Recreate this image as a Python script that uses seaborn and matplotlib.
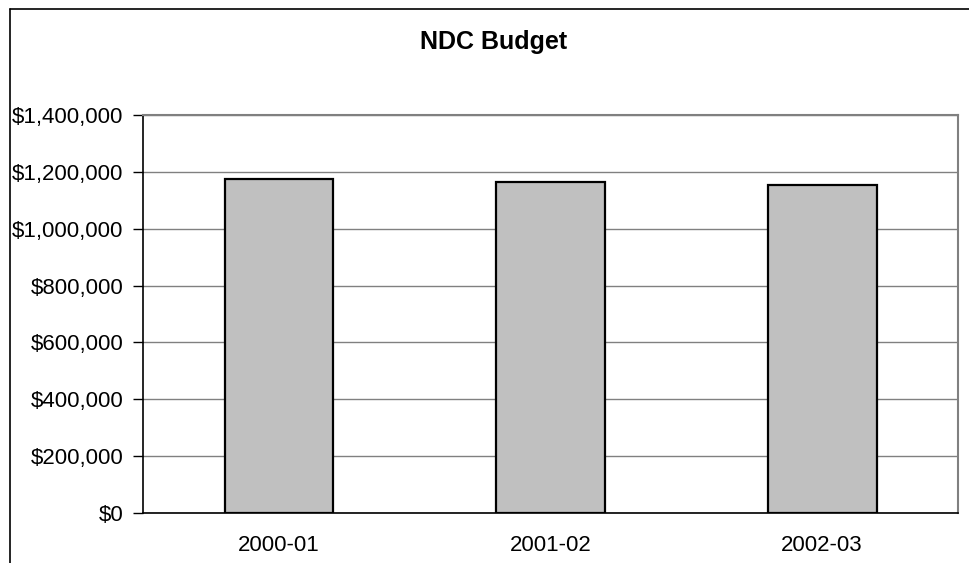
import matplotlib.pyplot as plt
import matplotlib.ticker as mticker
from matplotlib.lines import Line2D
import pandas as pd
import seaborn as sns

# NDC budget per fiscal year
years = ["2000-01", "2001-02", "2002-03"]
budget = [1176500, 1163400, 1154000]
y_ticks = [0, 200000, 400000, 600000, 800000, 1000000, 1200000, 1400000]

df = pd.DataFrame({"year": years, "budget": budget})

sns.set_style("white")
plt.rcParams["font.family"] = ["Liberation Sans", "DejaVu Sans"]
plt.rcParams["text.color"] = "black"
plt.rcParams["xtick.color"] = "black"
plt.rcParams["ytick.color"] = "black"

fig = plt.figure(figsize=(9.69, 5.63), dpi=100)
ax = fig.add_axes([143 / 969, 1 - 513 / 563, (958 - 143) / 969, (513 - 115) / 563])

sns.barplot(
    data=df, x="year", y="budget", color="#C0C0C0",
    width=0.4, edgecolor="black", linewidth=1.6, saturation=1, ax=ax,
)

ax.set_xlim(-0.5, 2.5)
ax.set_ylim(0, 1400000)
ax.set_yticks(y_ticks)
ax.yaxis.set_major_formatter(mticker.FuncFormatter(lambda v, p: f"${v:,.0f}"))
ax.set_xlabel("")
ax.set_ylabel("")

# gridlines behind the bars
ax.set_axisbelow(True)
ax.yaxis.grid(True, color="#808080", linewidth=1)

# Excel-style category ticks between the bars
ax.set_xticks([-0.5, 0.5, 1.5, 2.5], minor=True)
ax.tick_params(axis="x", which="major", length=0, pad=16, labelsize=16, labelcolor="black")
ax.tick_params(axis="x", which="minor", length=7, width=1, color="black", direction="out")
ax.tick_params(axis="y", which="major", length=7, width=1, color="black",
               direction="out", left=True, pad=7, labelsize=16, labelcolor="black")

for side in ["left", "bottom"]:
    ax.spines[side].set_color("black")
    ax.spines[side].set_linewidth(1.2)
for side in ["right", "top"]:
    ax.spines[side].set_visible(True)
    ax.spines[side].set_color("#808080")
    ax.spines[side].set_linewidth(1.5)

fig.text(494 / 969, 1 - 49.3 / 563, "NDC Budget", ha="center", va="baseline",
         fontsize=18, fontweight="bold", color="black")

# chart area border (only top and left edges visible)
fig.add_artist(Line2D([10 / 969, 10 / 969], [0, 1 - 9 / 563], transform=fig.transFigure,
                      color="black", linewidth=1.2))
fig.add_artist(Line2D([10 / 969, 1], [1 - 9 / 563, 1 - 9 / 563], transform=fig.transFigure,
                      color="black", linewidth=1.2))

fig.savefig("out.png", dpi=100)
